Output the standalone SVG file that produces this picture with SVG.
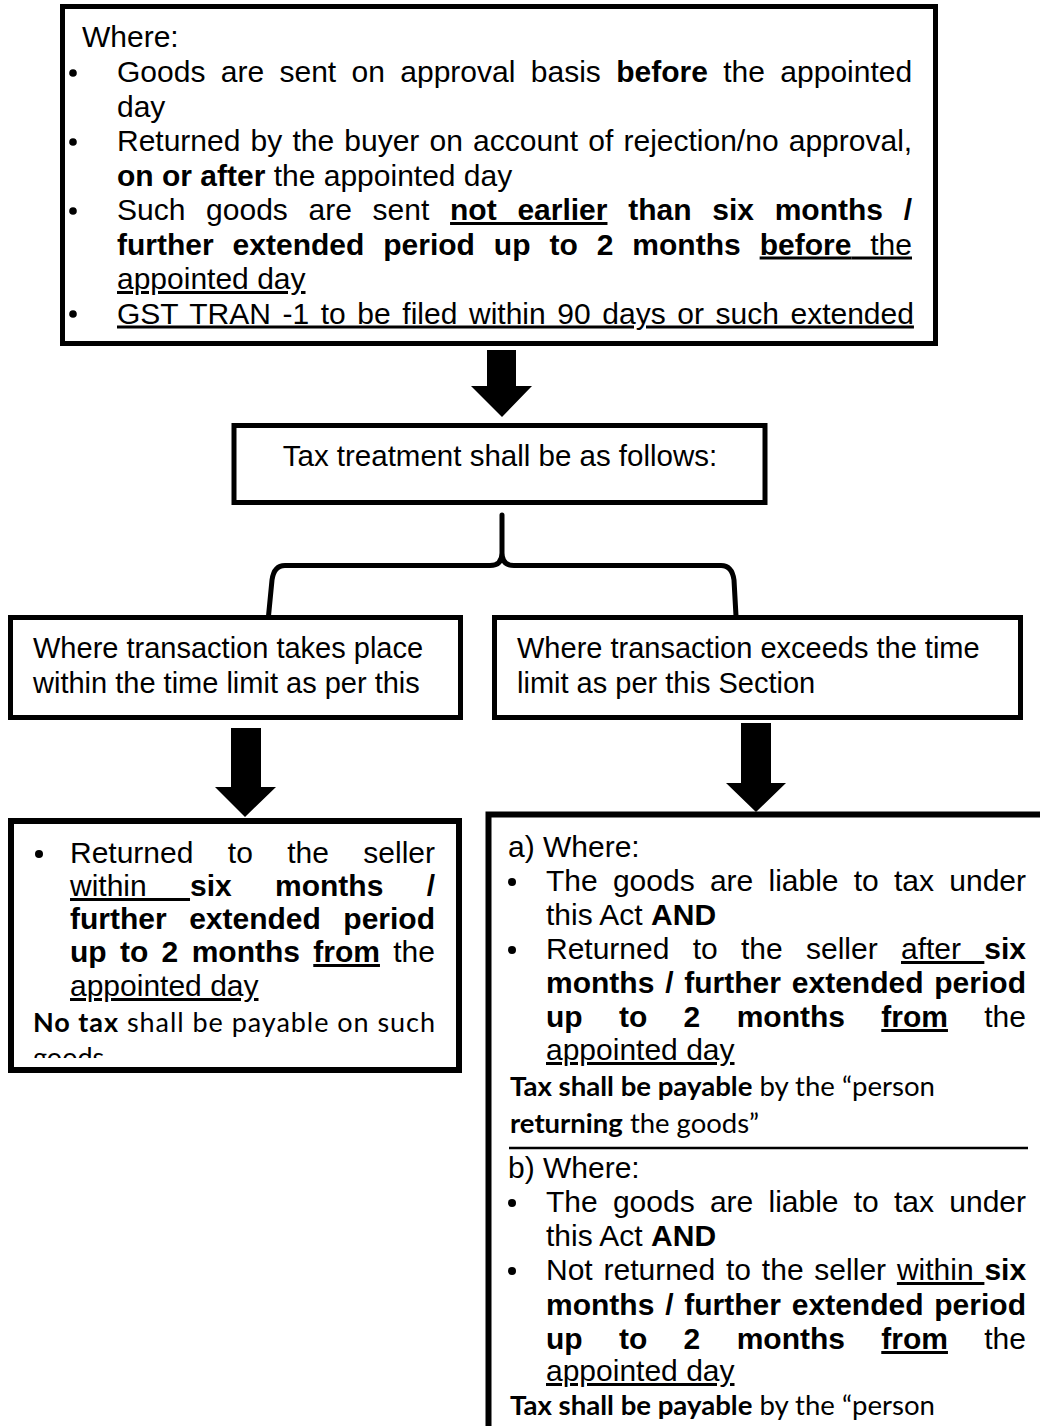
<svg xmlns="http://www.w3.org/2000/svg" width="1040" height="1426" viewBox="0 0 1040 1426">
<style>
.box{fill:#fff;stroke:#000;stroke-width:5}
.t{font-family:"Liberation Sans",Arial,sans-serif;font-size:30px;fill:#000}
.m{font-family:"Liberation Sans",Arial,sans-serif;font-size:29px;fill:#000}
.s{font-family:"Liberation Sans",Arial,sans-serif;font-size:30px;fill:#000}
.c{font-family:Lato,"Liberation Sans",sans-serif;font-size:27px;fill:#000}
.b{font-weight:bold}
.u{text-decoration:underline}
.arrow{fill:#000}
.brace{fill:none;stroke:#000;stroke-width:5;stroke-linejoin:round;stroke-linecap:round}
</style>
<defs>
<clipPath id="clipL"><rect x="12" y="822" width="446" height="236"/></clipPath>
</defs>
<rect width="1040" height="1426" fill="#fff"/>

<g id="top-box">
<rect class="box" x="62.5" y="6.5" width="873" height="337"/>
<text class="t" x="82" y="47">Where:</text>
<circle cx="73" cy="73" r="3.8"/>
<circle cx="73" cy="142" r="3.8"/>
<circle cx="73" cy="211" r="3.8"/>
<circle cx="73" cy="314" r="3.8"/>
<text class="t" x="117" y="82" style="word-spacing:7.04px">Goods are sent on approval basis <tspan class="b">before</tspan> the appointed</text>
<text class="t" x="117" y="116.5">day</text>
<text class="t" x="117" y="151" style="word-spacing:1.83px">Returned by the buyer on account of rejection/no approval,</text>
<text class="t" x="117" y="185.5"><tspan class="b">on or after</tspan> the appointed day</text>
<text class="t" x="117" y="220" style="word-spacing:12.38px">Such goods are sent <tspan class="b u">not earlier</tspan><tspan class="b"> than six months /</tspan></text>
<text class="t" x="117" y="254.5" style="word-spacing:10.61px"><tspan class="b">further extended period up to 2 months </tspan><tspan class="u"><tspan class="b">before</tspan> the</tspan></text>
<text class="t u" x="117" y="289">appointed day</text>
<text class="t u" x="117" y="323.5" style="word-spacing:3.27px">GST TRAN -1 to be filed within 90 days or such extended</text>
</g>

<g id="tax-treatment">
<rect class="box" x="234" y="425.5" width="531" height="77"/>
<text class="m" x="500" y="466" text-anchor="middle" style="font-size:29.5px">Tax treatment shall be as follows:</text>
</g>

<g id="within-limit">
<rect class="box" x="10.5" y="617.5" width="450" height="100"/>
<text class="m" x="33" y="658">Where transaction takes place</text>
<text class="m" x="33" y="693">within the time limit as per this</text>
</g>

<g id="exceeds-limit">
<rect class="box" x="494.5" y="617.5" width="526" height="100"/>
<text class="m" x="517" y="658">Where transaction exceeds the time</text>
<text class="m" x="517" y="693">limit as per this Section</text>
</g>

<g id="no-tax">
<rect class="box" x="11" y="821" width="448" height="249" style="stroke-width:6"/>
<circle cx="39" cy="854" r="4"/>
<text class="s" x="70" y="863" style="word-spacing:26.07px">Returned to the seller</text>
<text class="s" x="70" y="896" style="word-spacing:34.97px"><tspan class="u">within </tspan><tspan class="b">six months /</tspan></text>
<text class="s b" x="70" y="929" style="word-spacing:14.15px">further extended period</text>
<text class="s" x="70" y="962" style="word-spacing:4.99px"><tspan class="b">up to 2 months </tspan><tspan class="b u">from</tspan> the</text>
<text class="s u" x="70" y="996">appointed day</text>
<text class="c" x="33" y="1032" textLength="402" lengthAdjust="spacing"><tspan class="b">No tax</tspan> shall be payable on such</text>
<g clip-path="url(#clipL)"><text class="c" x="33" y="1067">goods</text></g>
</g>

<g id="tax-payable">
<path d="M1040,814.5 L488.5,814.5 L488.5,1426" fill="none" stroke="#000" stroke-width="6"/>
<text class="s" x="508" y="857">a) Where:</text>
<circle cx="512" cy="882" r="4"/>
<text class="s" x="546" y="891" style="word-spacing:6.9px">The goods are liable to tax under</text>
<text class="s" x="546" y="925">this Act <tspan class="b">AND</tspan></text>
<circle cx="512" cy="950" r="4"/>
<text class="s" x="546" y="959" style="word-spacing:14.96px">Returned to the seller <tspan class="u">after </tspan><tspan class="b">six</tspan></text>
<text class="s b" x="546" y="993" style="word-spacing:2.48px">months / further extended period</text>
<text class="s" x="546" y="1027" style="word-spacing:27.99px"><tspan class="b">up to 2 months </tspan><tspan class="b u">from</tspan> the</text>
<text class="s u" x="546" y="1060">appointed day</text>
<text class="c" x="510" y="1096" textLength="425" lengthAdjust="spacingAndGlyphs"><tspan class="b">Tax shall be payable</tspan> by the “person</text>
<text class="c" x="510" y="1133" textLength="249" lengthAdjust="spacingAndGlyphs"><tspan class="b">returning</tspan> the goods”</text>
<line x1="509" y1="1148" x2="1028" y2="1148" stroke="#000" stroke-width="2.5"/>
<text class="s" x="508" y="1178">b) Where:</text>
<circle cx="512" cy="1203" r="4"/>
<text class="s" x="546" y="1212" style="word-spacing:6.9px">The goods are liable to tax under</text>
<text class="s" x="546" y="1246">this Act <tspan class="b">AND</tspan></text>
<circle cx="512" cy="1271" r="4"/>
<text class="s" x="546" y="1280" style="word-spacing:2.47px">Not returned to the seller <tspan class="u">within </tspan><tspan class="b">six</tspan></text>
<text class="s b" x="546" y="1315" style="word-spacing:2.48px">months / further extended period</text>
<text class="s" x="546" y="1349" style="word-spacing:27.99px"><tspan class="b">up to 2 months </tspan><tspan class="b u">from</tspan> the</text>
<text class="s u" x="546" y="1381">appointed day</text>
<text class="c" x="510" y="1415" textLength="425" lengthAdjust="spacingAndGlyphs"><tspan class="b">Tax shall be payable</tspan> by the “person</text>
</g>

<g id="connectors">
<polygon class="arrow" points="487,350 516,350 516,386 532,386 502,417 471,386 487,386"/>
<path class="brace" d="M502,515 L502,553 Q502,565.5 490,565.5 L285,565.5 Q274,565.5 272,580 L268.5,616 M502,553 Q502,565.5 514,565.5 L721,565.5 Q732,565.5 734,580 L736,616"/>
<polygon class="arrow" points="231,728 261,728 261,787 276,787 245,817 215,787 231,787"/>
<polygon class="arrow" points="741,723 771,723 771,783 786,783 756,812 726,783 741,783"/>
</g>
</svg>
